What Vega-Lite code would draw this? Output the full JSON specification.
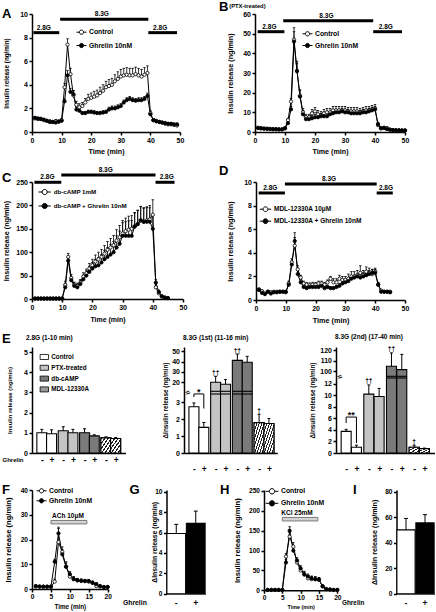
{
"$schema":"https://vega.github.io/schema/vega-lite/v6.json",
"background":"white",
"padding":{"left":1,"top":1,"right":0,"bottom":0},
"columns":1,
"align":"none",
"spacing":9,
"resolve":{"scale":{"fill":"independent"},"legend":{"fill":"independent"}},
"concat":[
{"hconcat":[
 {"width":148,"height":118,"title":{"text":"A","dx":-30,"offset":-11},
  "encoding":{"x":{"field":"t","type":"quantitative","scale":{"domain":[0,50],"nice":false},"axis":{"values":[0,10,20,30,40,50],"title":"Time (min)","titleY":19,"titleBaseline":"middle"}},
   "y":{"field":"v","type":"quantitative","scale":{"domain":[0,10],"nice":false},"axis":{"values":[0,2,4,6,8,10],"title":"Insulin release (ng/min)","titleX":-26,"titleBaseline":"middle","titleFontSize":6.3}}},
  "layer":[
   {"data":{"values":[{"t":0.5,"t2":9.2,"v":8.42},{"t":9.5,"t2":39.3,"v":9.55},{"t":39.3,"t2":49,"v":8.42}]},"mark":{"type":"rule","strokeWidth":3,"color":"black"},"encoding":{"x2":{"field":"t2"}}},
   {"data":{"values":[{"tm":4.0,"v":8.42,"label":"2.8G"},{"tm":23.6,"v":9.55,"label":"8.3G"},{"tm":43.3,"v":8.42,"label":"2.8G"}]},"mark":{"type":"text","fontSize":6.5,"baseline":"alphabetic","dy":-3},"encoding":{"x":{"field":"tm","type":"quantitative","title":"Time (min)"},"text":{"field":"label"}}},
   {"data":{"name":"A"},"mark":{"type":"rule","strokeWidth":0.8,"color":"black"},"encoding":{"y2":{"field":"hi"}}},
   {"data":{"name":"A"},"mark":{"type":"tick","orient":"horizontal","size":2.5,"thickness":0.8,"color":"black","opacity":1},"encoding":{"y":{"field":"hi","type":"quantitative","title":"Insulin release (ng/min)"}}},
   {"data":{"name":"A"},"mark":{"type":"line","strokeWidth":1,"color":"black"},"encoding":{"detail":{"field":"s"}}},
   {"data":{"name":"A"},"mark":{"type":"point","size":11,"stroke":"black","strokeWidth":0.8,"opacity":1},"encoding":{"fill":{"field":"s","type":"nominal","scale":{"domain":["c","g"],"range":["white","black"]},"legend":{"orient":"none","legendX":44,"legendY":12.7,"title":null,"symbolType":"M-1,0L-0.42,0M0.42,0L1,0M0.42,0A0.42,0.42,0,1,1,-0.42,0A0.42,0.42,0,1,1,0.42,0Z","symbolSize":100,"symbolStrokeColor":"black","symbolStrokeWidth":1,"labelFontSize":6.8,"rowPadding":3.3,"labelOffset":2,"labelExpr":"datum.value == 'c' ? 'Control' : 'Ghrelin 10nM'"}}}}
  ]},
 {"width":150,"height":118,"title":{"text":"B","dx":-36,"offset":-11.2},
  "encoding":{"x":{"field":"t","type":"quantitative","scale":{"domain":[0,50],"nice":false},"axis":{"values":[0,10,20,30,40,50],"title":"Time (min)","titleY":19,"titleBaseline":"middle"}},
   "y":{"field":"v","type":"quantitative","scale":{"domain":[0,60],"nice":false},"axis":{"values":[0,10,20,30,40,50,60],"title":"Insulin release (ng/min)","titleX":-24.3,"titleBaseline":"middle","titleFontSize":7.2}}},
  "layer":[
   {"data":{"values":[{"t":0.9,"t2":9.8,"v":51},{"t":9.4,"t2":39.4,"v":56.6},{"t":39.4,"t2":49,"v":51}]},"mark":{"type":"rule","strokeWidth":3,"color":"black"},"encoding":{"x2":{"field":"t2"}}},
   {"data":{"values":[{"tm":4.8,"v":51,"label":"2.8G"},{"tm":23.8,"v":56.6,"label":"8.3G"},{"tm":43.6,"v":51,"label":"2.8G"}]},"mark":{"type":"text","fontSize":6.5,"baseline":"alphabetic","dy":-3},"encoding":{"x":{"field":"tm","type":"quantitative","title":"Time (min)"},"text":{"field":"label"}}},
   {"data":{"values":[{"tm":-8.6,"v":62.4,"label":"(PTX-treated)"}]},"mark":{"type":"text","fontSize":5.8,"baseline":"bottom","align":"left"},"encoding":{"x":{"field":"tm","type":"quantitative","title":"Time (min)"},"text":{"field":"label"}}},
   {"data":{"name":"B"},"mark":{"type":"rule","strokeWidth":0.8,"color":"black"},"encoding":{"y2":{"field":"hi"}}},
   {"data":{"name":"B"},"mark":{"type":"tick","orient":"horizontal","size":2.5,"thickness":0.8,"color":"black","opacity":1},"encoding":{"y":{"field":"hi","type":"quantitative","title":"Insulin release (ng/min)"}}},
   {"data":{"name":"B"},"mark":{"type":"line","strokeWidth":1,"color":"black"},"encoding":{"detail":{"field":"s"}}},
   {"data":{"name":"B"},"mark":{"type":"point","size":11,"stroke":"black","strokeWidth":0.8,"opacity":1},"encoding":{"fill":{"field":"s","type":"nominal","scale":{"domain":["c","g"],"range":["white","black"]},"legend":{"orient":"none","legendX":47,"legendY":14.3,"title":null,"symbolType":"M-1,0L-0.42,0M0.42,0L1,0M0.42,0A0.42,0.42,0,1,1,-0.42,0A0.42,0.42,0,1,1,0.42,0Z","symbolSize":100,"symbolStrokeColor":"black","symbolStrokeWidth":1,"labelFontSize":6.8,"rowPadding":1.7,"labelOffset":2,"labelExpr":"datum.value == 'c' ? 'Control' : 'Ghrelin 10nM'"}}}}
  ]}
],"spacing":75,"bounds":"flush","resolve":{"scale":{"fill":"independent"},"legend":{"fill":"independent"}}},
{"hconcat":[
 {"width":151,"height":117,"title":{"text":"C","dx":-30,"offset":-18},
  "encoding":{"x":{"field":"t","type":"quantitative","scale":{"domain":[0,50],"nice":false},"axis":{"values":[0,10,20,30,40,50],"title":"Time (min)","titleY":20.5,"titleBaseline":"middle","titleFontSize":7}},
   "y":{"field":"v","type":"quantitative","scale":{"domain":[0,250],"nice":false},"axis":{"values":[0,50,100,150,200,250],"title":"Insulin release (ng/min)","titleX":-26,"titleBaseline":"middle","titleFontSize":7.2}}},
  "layer":[
   {"data":{"values":[{"t":0.8,"t2":9.7,"v":249.4},{"t":9.7,"t2":40.9,"v":265},{"t":40.9,"t2":47.2,"v":249.4}]},"mark":{"type":"rule","strokeWidth":3,"color":"black"},"encoding":{"x2":{"field":"t2"}}},
   {"data":{"values":[{"tm":5.1,"v":249.4,"label":"2.8G"},{"tm":24.4,"v":265,"label":"8.3G"},{"tm":44.6,"v":249.4,"label":"2.8G"}]},"mark":{"type":"text","fontSize":6.5,"baseline":"alphabetic","dy":-3},"encoding":{"x":{"field":"tm","type":"quantitative","title":"Time (min)"},"text":{"field":"label"}}},
   {"data":{"name":"C"},"mark":{"type":"rule","strokeWidth":0.8,"color":"black"},"encoding":{"y2":{"field":"hi"}}},
   {"data":{"name":"C"},"mark":{"type":"tick","orient":"horizontal","size":2.5,"thickness":0.8,"color":"black","opacity":1},"encoding":{"y":{"field":"hi","type":"quantitative","title":"Insulin release (ng/min)"}}},
   {"data":{"name":"C"},"mark":{"type":"line","strokeWidth":1,"color":"black"},"encoding":{"detail":{"field":"s"}}},
   {"data":{"name":"C"},"mark":{"type":"point","size":11,"stroke":"black","strokeWidth":0.8,"opacity":1},"encoding":{"fill":{"field":"s","type":"nominal","scale":{"domain":["c","g"],"range":["white","black"]},"legend":{"orient":"none","legendX":5.7,"legendY":3,"title":null,"symbolType":"M-1,0L-0.42,0M0.42,0L1,0M0.42,0A0.42,0.42,0,1,1,-0.42,0A0.42,0.42,0,1,1,0.42,0Z","symbolSize":150,"symbolStrokeColor":"black","symbolStrokeWidth":1,"labelFontSize":6.2,"rowPadding":2,"labelOffset":2,"labelExpr":"datum.value == 'c' ? 'db-cAMP 1mM' : 'db-cAMP + Ghrelin 10nM'"}}}}
  ]},
 {"width":149,"height":118,"title":{"text":"D","dx":-37,"offset":-1.5},
  "encoding":{"x":{"field":"t","type":"quantitative","scale":{"domain":[0,50],"nice":false},"axis":{"values":[0,10,20,30,40,50],"title":"Time (min)","titleY":20.5,"titleBaseline":"middle","titleFontSize":7.3}},
   "y":{"field":"v","type":"quantitative","scale":{"domain":[0,10],"nice":false},"axis":{"values":[0,2,4,6,8,10],"title":"Insulin release (ng/min)","titleX":-25.3,"titleBaseline":"middle","titleFontSize":7.2}}},
  "layer":[
   {"data":{"values":[{"t":0.9,"t2":9.7,"v":9.07},{"t":9.7,"t2":40.5,"v":9.83},{"t":40.5,"t2":45.9,"v":9.07}]},"mark":{"type":"rule","strokeWidth":3,"color":"black"},"encoding":{"x2":{"field":"t2"}}},
   {"data":{"values":[{"tm":4.8,"v":9.07,"label":"2.8G"},{"tm":24.5,"v":9.83,"label":"8.3G"},{"tm":43.6,"v":9.07,"label":"2.8G"}]},"mark":{"type":"text","fontSize":6.5,"baseline":"alphabetic","dy":-3},"encoding":{"x":{"field":"tm","type":"quantitative","title":"Time (min)"},"text":{"field":"label"}}},
   {"data":{"name":"D"},"mark":{"type":"rule","strokeWidth":0.8,"color":"black"},"encoding":{"y2":{"field":"hi"}}},
   {"data":{"name":"D"},"mark":{"type":"tick","orient":"horizontal","size":2.5,"thickness":0.8,"color":"black","opacity":1},"encoding":{"y":{"field":"hi","type":"quantitative","title":"Insulin release (ng/min)"}}},
   {"data":{"name":"D"},"mark":{"type":"line","strokeWidth":1,"color":"black"},"encoding":{"detail":{"field":"s"}}},
   {"data":{"name":"D"},"mark":{"type":"point","size":11,"stroke":"black","strokeWidth":0.8,"opacity":1},"encoding":{"fill":{"field":"s","type":"nominal","scale":{"domain":["c","g"],"range":["white","black"]},"legend":{"orient":"none","legendX":3,"legendY":20.7,"title":null,"symbolType":"M-1,0L-0.42,0M0.42,0L1,0M0.42,0A0.42,0.42,0,1,1,-0.42,0A0.42,0.42,0,1,1,0.42,0Z","symbolSize":130,"symbolStrokeColor":"black","symbolStrokeWidth":1,"labelFontSize":6.5,"rowPadding":1,"labelOffset":2,"labelExpr":"datum.value == 'c' ? 'MDL-12330A 10μM' : 'MDL-12330A + Ghrelin 10nM'"}}}}
  ]}
],"spacing":73,"bounds":"flush","resolve":{"scale":{"fill":"independent"},"legend":{"fill":"independent"}}},
{"title":{"text":"E","dx":-30,"offset":-12},
 "hconcat":[
 {"width":93.5,"height":106,"title":{"text":"2.8G (1-10 min)","fontSize":6.5,"dx":-6,"offset":5.5},
  "encoding":{"x":{"field":"pos","type":"quantitative","scale":{"domain":[0.5,9.1],"nice":false,"zero":false},"axis":{"values":[1,2,3.2,4.2,5.4,6.4,7.6,8.6],"labelExpr":"indexof([1,3.2,5.4,7.6], datum.value) >= 0 ? '-' : '+'","ticks":false,"tickSize":0,"labelPadding":6.7,"labelBaseline":"middle","labelFontSize":8.5,"title":"Ghrelin","titleX":-30,"titleY":6.7,"titleAlign":"left","titleBaseline":"middle","titleFontSize":6}},
   "y":{"field":"v","type":"quantitative","stack":null,"scale":{"domain":[0,5.25],"nice":false},"axis":{"values":[0,1,2,3,4,5],"title":"Insulin release (ng/min)","titleX":-22.7,"titleBaseline":"middle","titleFontSize":6}}},
  "layer":[
   {"data":{"name":"E1"},"mark":{"type":"bar","orient":"vertical","width":10,"stroke":"black","strokeWidth":1.1,"opacity":1},"encoding":{"fill":{"field":"g","type":"nominal","scale":{"domain":["Control","PTX-treated","db-cAMP","MDL-12330A"],"range":["white","#c4c4c4","#7a7a7a","#9a9a9a"]},"legend":{"orient":"none","legendX":7.3,"legendY":5,"title":null,"symbolType":"M-1,-0.6H1V0.6H-1Z","symbolSize":70,"symbolStrokeColor":"black","symbolStrokeWidth":0.8,"labelFontSize":6.3,"rowPadding":0.8,"labelOffset":2}}}},
   {"data":{"name":"E1"},"transform":[{"filter":"datum.g == 'MDL-12330A'"}],"mark":{"type":"bar","orient":"vertical","width":10,"stroke":"black","strokeWidth":1.1,"opacity":1,"fill":{"gradient":"linear","x1":0,"y1":0,"x2":1,"y2":1,"stops":[{"offset":0,"color":"#222"},{"offset":0.067,"color":"#222"},{"offset":0.067,"color":"#fff"},{"offset":0.167,"color":"#fff"},{"offset":0.167,"color":"#222"},{"offset":0.233,"color":"#222"},{"offset":0.233,"color":"#fff"},{"offset":0.333,"color":"#fff"},{"offset":0.333,"color":"#222"},{"offset":0.4,"color":"#222"},{"offset":0.4,"color":"#fff"},{"offset":0.5,"color":"#fff"},{"offset":0.5,"color":"#222"},{"offset":0.567,"color":"#222"},{"offset":0.567,"color":"#fff"},{"offset":0.667,"color":"#fff"},{"offset":0.667,"color":"#222"},{"offset":0.733,"color":"#222"},{"offset":0.733,"color":"#fff"},{"offset":0.833,"color":"#fff"},{"offset":0.833,"color":"#222"},{"offset":0.9,"color":"#222"},{"offset":0.9,"color":"#fff"},{"offset":1,"color":"#fff"}]}},"encoding":{}},
   {"data":{"name":"E1"},"mark":{"type":"rule","strokeWidth":1,"color":"black"},"encoding":{"y2":{"field":"hi"}}},
   {"data":{"name":"E1"},"mark":{"type":"tick","orient":"horizontal","size":3,"thickness":1,"color":"black","opacity":1},"encoding":{"y":{"field":"hi","type":"quantitative","title":"Insulin release (ng/min)"}}}
  ]},
 {"width":93.3,"height":106,"title":{"text":"8.3G (1st) (11-16 min)","fontSize":6.5,"dx":-1,"offset":5.5},
  "encoding":{"x":{"field":"pos","type":"quantitative","scale":{"domain":[0.5,8.94],"nice":false,"zero":false},"axis":{"values":[1,2,3.2,4.2,5.4,6.4,7.6,8.6],"labelExpr":"indexof([1,3.2,5.4,7.6], datum.value) >= 0 ? '-' : '+'","ticks":false,"tickSize":0,"labelPadding":15.7,"labelBaseline":"middle","labelFontSize":8.5,"title":null}},
   "y":{"field":"v","type":"quantitative","stack":null,"scale":{"domain":[0,3.5,11.3,54.1],"range":[106,47,44.3,0],"nice":false,"zero":false},"axis":{"values":[0,1,2,3,20,30,40,50],"title":"ΔInsulin release (ng/min)","titleX":-19,"titleBaseline":"middle","titleFontSize":6.4}}},
  "layer":[
   {"data":{"name":"E2"},"mark":{"type":"bar","orient":"vertical","width":10,"stroke":"black","strokeWidth":1.1,"opacity":1},"encoding":{"fill":{"field":"g","type":"nominal","scale":{"domain":["Control","PTX-treated","db-cAMP","MDL-12330A"],"range":["white","#c4c4c4","#7a7a7a","#9a9a9a"]},"legend":null}}},
   {"data":{"name":"E2"},"transform":[{"filter":"datum.g == 'MDL-12330A'"}],"mark":{"type":"bar","orient":"vertical","width":10,"stroke":"black","strokeWidth":1.1,"opacity":1,"fill":{"gradient":"linear","x1":0,"y1":0,"x2":1,"y2":1,"stops":[{"offset":0,"color":"#222"},{"offset":0.05,"color":"#222"},{"offset":0.05,"color":"#fff"},{"offset":0.125,"color":"#fff"},{"offset":0.125,"color":"#222"},{"offset":0.175,"color":"#222"},{"offset":0.175,"color":"#fff"},{"offset":0.25,"color":"#fff"},{"offset":0.25,"color":"#222"},{"offset":0.3,"color":"#222"},{"offset":0.3,"color":"#fff"},{"offset":0.375,"color":"#fff"},{"offset":0.375,"color":"#222"},{"offset":0.425,"color":"#222"},{"offset":0.425,"color":"#fff"},{"offset":0.5,"color":"#fff"},{"offset":0.5,"color":"#222"},{"offset":0.55,"color":"#222"},{"offset":0.55,"color":"#fff"},{"offset":0.625,"color":"#fff"},{"offset":0.625,"color":"#222"},{"offset":0.675,"color":"#222"},{"offset":0.675,"color":"#fff"},{"offset":0.75,"color":"#fff"},{"offset":0.75,"color":"#222"},{"offset":0.8,"color":"#222"},{"offset":0.8,"color":"#fff"},{"offset":0.875,"color":"#fff"},{"offset":0.875,"color":"#222"},{"offset":0.925,"color":"#222"},{"offset":0.925,"color":"#fff"},{"offset":1,"color":"#fff"}]}},"encoding":{}},
   {"data":{"name":"E2"},"mark":{"type":"rule","strokeWidth":1,"color":"black"},"encoding":{"y2":{"field":"hi"}}},
   {"data":{"name":"E2"},"mark":{"type":"tick","orient":"horizontal","size":3,"thickness":1,"color":"black","opacity":1},"encoding":{"y":{"field":"hi","type":"quantitative","title":"ΔInsulin release (ng/min)"}}},
   {"data":{"values":[{"k":1}]},"mark":{"type":"rect","fill":"white"},"encoding":{"x":{"datum":0.62},"x2":{"datum":8.94},"y":{"datum":3.5},"y2":{"datum":11.3}}},
   {"data":{"name":"E2"},"transform":[{"filter":"datum.v > 11.3"}],"mark":{"type":"tick","orient":"horizontal","size":10,"thickness":1.1,"color":"black","opacity":1},"encoding":{"y":{"datum":3.5}}},
   {"data":{"name":"E2"},"transform":[{"filter":"datum.v > 11.3"}],"mark":{"type":"tick","orient":"horizontal","size":10,"thickness":1.1,"color":"black","opacity":1},"encoding":{"y":{"datum":11.3}}},
   {"data":{"values":[{"pos":1,"p2":2,"y1":3.66,"y2":3.66},{"pos":1,"p2":1,"y1":3.32,"y2":3.66},{"pos":2,"p2":2,"y1":2.64,"y2":3.66}]},"mark":{"type":"rule","strokeWidth":1,"color":"black"},"encoding":{"x2":{"field":"p2"},"y":{"field":"y1","type":"quantitative","title":"ΔInsulin release (ng/min)"},"y2":{"field":"y2"}}},
   {"data":{"values":[{"pos":1.5,"v":3.66,"t":"*"}]},"mark":{"type":"text","fontSize":9,"baseline":"alphabetic","dy":1},"encoding":{"text":{"field":"t"}}},
   {"data":{"values":[{"pos":3.2,"v":25.8,"t":"††"},{"pos":5.4,"v":47.3,"t":"††"},{"pos":7.6,"v":2.3,"t":"†"}]},"mark":{"type":"text","fontSize":6.5,"baseline":"alphabetic","dy":-1.5},"encoding":{"text":{"field":"t"}}},
   {"data":{"values":[{"pos":0.5,"v":7.4,"t":"≈"}]},"mark":{"type":"text","fontSize":8,"baseline":"middle","dx":-1,"angle":-30},"encoding":{"text":{"field":"t"}}}
  ]},
 {"width":98.6,"height":106,"title":{"text":"8.3G (2nd) (17-40 min)","fontSize":6.5,"dx":-1,"offset":5.5},
  "encoding":{"x":{"field":"pos","type":"quantitative","scale":{"domain":[0.5,9.1],"nice":false,"zero":false},"axis":{"values":[1,2,3.2,4.2,5.4,6.4,7.6,8.6],"labelExpr":"indexof([1,3.2,5.4,7.6], datum.value) >= 0 ? '-' : '+'","ticks":false,"tickSize":0,"labelPadding":15.7,"labelBaseline":"middle","labelFontSize":8.5,"title":null}},
   "y":{"field":"v","type":"quantitative","stack":null,"scale":{"domain":[0,13,95.2,123],"range":[106,31,29.3,0],"nice":false,"zero":false},"axis":{"values":[0,2,4,6,8,10,12,100,110,120],"title":"ΔInsulin release (ng/min)","titleX":-24,"titleBaseline":"middle","titleFontSize":6.4}}},
  "layer":[
   {"data":{"name":"E3"},"mark":{"type":"bar","orient":"vertical","width":10,"stroke":"black","strokeWidth":1.1,"opacity":1},"encoding":{"fill":{"field":"g","type":"nominal","scale":{"domain":["Control","PTX-treated","db-cAMP","MDL-12330A"],"range":["white","#c4c4c4","#7a7a7a","#9a9a9a"]},"legend":null}}},
   {"data":{"name":"E3"},"transform":[{"filter":"datum.g == 'MDL-12330A'"}],"mark":{"type":"bar","orient":"vertical","width":10,"stroke":"black","strokeWidth":1.1,"opacity":1,"fill":{"gradient":"linear","x1":0,"y1":0,"x2":1,"y2":1,"stops":[{"offset":0,"color":"#222"},{"offset":0.1,"color":"#222"},{"offset":0.1,"color":"#fff"},{"offset":0.25,"color":"#fff"},{"offset":0.25,"color":"#222"},{"offset":0.35,"color":"#222"},{"offset":0.35,"color":"#fff"},{"offset":0.5,"color":"#fff"},{"offset":0.5,"color":"#222"},{"offset":0.6,"color":"#222"},{"offset":0.6,"color":"#fff"},{"offset":0.75,"color":"#fff"},{"offset":0.75,"color":"#222"},{"offset":0.85,"color":"#222"},{"offset":0.85,"color":"#fff"},{"offset":1,"color":"#fff"}]}},"encoding":{}},
   {"data":{"name":"E3"},"mark":{"type":"rule","strokeWidth":1,"color":"black"},"encoding":{"y2":{"field":"hi"}}},
   {"data":{"name":"E3"},"mark":{"type":"tick","orient":"horizontal","size":3,"thickness":1,"color":"black","opacity":1},"encoding":{"y":{"field":"hi","type":"quantitative","title":"ΔInsulin release (ng/min)"}}},
   {"data":{"values":[{"k":1}]},"mark":{"type":"rect","fill":"white"},"encoding":{"x":{"datum":0.6},"x2":{"datum":9.1},"y":{"datum":13},"y2":{"datum":95.2}}},
   {"data":{"name":"E3"},"transform":[{"filter":"datum.v > 95.2"}],"mark":{"type":"tick","orient":"horizontal","size":10,"thickness":1.1,"color":"black","opacity":1},"encoding":{"y":{"datum":13}}},
   {"data":{"name":"E3"},"transform":[{"filter":"datum.v > 95.2"}],"mark":{"type":"tick","orient":"horizontal","size":10,"thickness":1.1,"color":"black","opacity":1},"encoding":{"y":{"datum":95.2}}},
   {"data":{"values":[{"pos":1,"p2":2,"y1":6.23,"y2":6.23},{"pos":1,"p2":1,"y1":5.2,"y2":6.23},{"pos":2,"p2":2,"y1":1.73,"y2":6.23}]},"mark":{"type":"rule","strokeWidth":1,"color":"black"},"encoding":{"x2":{"field":"p2"},"y":{"field":"y1","type":"quantitative","title":"ΔInsulin release (ng/min)"},"y2":{"field":"y2"}}},
   {"data":{"values":[{"pos":1.5,"v":6.23,"t":"**"}]},"mark":{"type":"text","fontSize":9,"baseline":"alphabetic","dy":1},"encoding":{"text":{"field":"t"}}},
   {"data":{"values":[{"pos":3.2,"v":11.8,"t":"††"},{"pos":5.4,"v":117.4,"t":"††"},{"pos":7.6,"v":1.35,"t":"†"}]},"mark":{"type":"text","fontSize":6.5,"baseline":"alphabetic","dy":-1.5},"encoding":{"text":{"field":"t"}}},
   {"data":{"values":[{"pos":0.5,"v":60,"t":"≈"}]},"mark":{"type":"text","fontSize":8,"baseline":"middle","dx":-1,"angle":-30},"encoding":{"text":{"field":"t"}}}
  ]}
],"spacing":58,"bounds":"flush","resolve":{"scale":{"fill":"independent"},"legend":{"fill":"independent"}}},
{"hconcat":[
 {"width":75.7,"height":99,"title":{"text":"F","dx":-30,"offset":-11.2},
  "encoding":{"x":{"field":"t","type":"quantitative","scale":{"domain":[0,20],"nice":false},"axis":{"values":[0,5,10,15,20],"title":"Time (min)","titleY":17.3,"titleBaseline":"middle","titleFontSize":6.3,"labelFontSize":6.6}},
   "y":{"field":"v","type":"quantitative","scale":{"domain":[0,40],"nice":false},"axis":{"values":[0,10,20,30,40],"title":"Insulin release (ng/min)","titleX":-23.5,"titleBaseline":"middle","titleFontSize":7.6,"labelFontSize":6.6}}},
  "layer":[
   {"data":{"values":[{"t":5,"t2":14.5,"v":26.3,"v2":27.7}]},"mark":{"type":"rect","fill":"#d4d4d4","stroke":"#7a7a7a","strokeWidth":1},"encoding":{"x2":{"field":"t2"},"y2":{"field":"v2"}}},
   {"data":{"values":[{"tm":9.5,"v":27.7,"label":"ACh 10μM"}]},"mark":{"type":"text","fontSize":6.5,"baseline":"alphabetic","dy":-2.5},"encoding":{"x":{"field":"tm","type":"quantitative","title":"Time (min)"},"text":{"field":"label"}}},
   {"data":{"name":"F"},"mark":{"type":"rule","strokeWidth":0.8,"color":"black"},"encoding":{"y2":{"field":"hi"}}},
   {"data":{"name":"F"},"mark":{"type":"tick","orient":"horizontal","size":2.5,"thickness":0.8,"color":"black","opacity":1},"encoding":{"y":{"field":"hi","type":"quantitative","title":"Insulin release (ng/min)"}}},
   {"data":{"name":"F"},"mark":{"type":"line","strokeWidth":1,"color":"black"},"encoding":{"detail":{"field":"s"}}},
   {"data":{"name":"F"},"mark":{"type":"point","size":11,"stroke":"black","strokeWidth":0.8,"opacity":1},"encoding":{"fill":{"field":"s","type":"nominal","scale":{"domain":["c","g"],"range":["white","black"]},"legend":{"orient":"none","legendX":4,"legendY":-4.7,"title":null,"symbolType":"M-1,0L-0.42,0M0.42,0L1,0M0.42,0A0.42,0.42,0,1,1,-0.42,0A0.42,0.42,0,1,1,0.42,0Z","symbolSize":100,"symbolStrokeColor":"black","symbolStrokeWidth":1,"labelFontSize":6.8,"rowPadding":0,"labelOffset":2,"labelExpr":"datum.value == 'c' ? 'Control' : 'Ghrelin 10nM'"}}}}
  ]},
 {"width":39,"height":103.7,"title":{"text":"G","dx":-37,"offset":-8.6},
  "data":{"values":[{"s":"-","v":5.9,"hi":6.8},{"s":"+","v":6.9,"hi":8.1}]},
  "encoding":{"x":{"field":"s","type":"nominal","sort":["-","+"],"scale":{"paddingInner":0.04,"paddingOuter":0.02},"axis":{"labelAngle":0,"ticks":false,"tickSize":0,"labelPadding":8.5,"labelBaseline":"middle","labelFontSize":8.5,"title":"Ghrelin","titleX":-44,"titleY":8.5,"titleAlign":"left","titleBaseline":"middle","titleFontSize":6.8,"domainColor":"#666"}},
   "y":{"field":"v","type":"quantitative","scale":{"domain":[0,10.17],"nice":false},"axis":{"values":[0,2,4,6,8,10],"title":"ΔInsulin release (ng/min)","titleX":-12,"titleBaseline":"middle","titleFontSize":6.8,"labelFontSize":6.6}}},
  "layer":[
   {"mark":{"type":"bar","stroke":"black","strokeWidth":1.1,"opacity":1},"encoding":{"fill":{"field":"s","type":"nominal","scale":{"domain":["-","+"],"range":["white","black"]},"legend":null}}},
   {"mark":{"type":"rule","strokeWidth":1,"color":"black"},"encoding":{"y2":{"field":"hi"}}},
   {"mark":{"type":"tick","orient":"horizontal","size":4,"thickness":1,"color":"black","opacity":1},"encoding":{"y":{"field":"hi","type":"quantitative","title":"ΔInsulin release (ng/min)"}}}
  ]},
 {"width":73.3,"height":100.3,"title":{"text":"H","dx":-44,"offset":-12.2},
  "encoding":{"x":{"field":"t","type":"quantitative","scale":{"domain":[0,20],"nice":false},"axis":{"values":[0,5,10,15,20],"title":"Time (min)","titleY":16.5,"titleBaseline":"middle","titleFontSize":5.4,"labelFontSize":6.6}},
   "y":{"field":"v","type":"quantitative","scale":{"domain":[0,252.5],"nice":false},"axis":{"values":[0,50,100,150,200,250],"title":"Insulin release (ng/min)","titleX":-27,"titleBaseline":"middle","titleFontSize":7.6,"labelFontSize":6.6}}},
  "layer":[
   {"data":{"values":[{"t":5,"t2":14.7,"v":174.6,"v2":183.4}]},"mark":{"type":"rect","fill":"#d4d4d4","stroke":"#7a7a7a","strokeWidth":1},"encoding":{"x2":{"field":"t2"},"y2":{"field":"v2"}}},
   {"data":{"values":[{"tm":9,"v":183.4,"label":"KCl 25mM"}]},"mark":{"type":"text","fontSize":6.5,"baseline":"alphabetic","dy":-2.5},"encoding":{"x":{"field":"tm","type":"quantitative","title":"Time (min)"},"text":{"field":"label"}}},
   {"data":{"name":"H"},"mark":{"type":"rule","strokeWidth":0.8,"color":"black"},"encoding":{"y2":{"field":"hi"}}},
   {"data":{"name":"H"},"mark":{"type":"tick","orient":"horizontal","size":2.5,"thickness":0.8,"color":"black","opacity":1},"encoding":{"y":{"field":"hi","type":"quantitative","title":"Insulin release (ng/min)"}}},
   {"data":{"name":"H"},"mark":{"type":"line","strokeWidth":1,"color":"black"},"encoding":{"detail":{"field":"s"}}},
   {"data":{"name":"H"},"mark":{"type":"point","size":11,"stroke":"black","strokeWidth":0.8,"opacity":1},"encoding":{"fill":{"field":"s","type":"nominal","scale":{"domain":["c","g"],"range":["white","black"]},"legend":{"orient":"none","legendX":1,"legendY":-5.7,"title":null,"symbolType":"M-1,0L-0.42,0M0.42,0L1,0M0.42,0A0.42,0.42,0,1,1,-0.42,0A0.42,0.42,0,1,1,0.42,0Z","symbolSize":160,"symbolStrokeColor":"black","symbolStrokeWidth":1,"labelFontSize":6.8,"rowPadding":0,"labelOffset":2,"labelExpr":"datum.value == 'c' ? 'Control' : 'Ghrelin 10nM'"}}}}
  ]},
 {"width":38,"height":103.7,"title":{"text":"I","dx":-43.5,"offset":-8.6},
  "data":{"values":[{"s":"-","v":50,"hi":59},{"s":"+","v":55.5,"hi":62}]},
  "encoding":{"x":{"field":"s","type":"nominal","sort":["-","+"],"scale":{"paddingInner":0.04,"paddingOuter":0.02},"axis":{"labelAngle":0,"ticks":false,"tickSize":0,"labelPadding":8.5,"labelBaseline":"middle","labelFontSize":8.5,"title":"Ghrelin","titleX":-55,"titleY":8.5,"titleAlign":"left","titleBaseline":"middle","titleFontSize":6.4,"domainColor":"#666"}},
   "y":{"field":"v","type":"quantitative","scale":{"domain":[0,81.3],"nice":false},"axis":{"values":[0,20,40,60,80],"title":"ΔInsulin release (ng/min)","titleX":-22,"titleBaseline":"middle","titleFontSize":7.2,"labelFontSize":6.6}}},
  "layer":[
   {"mark":{"type":"bar","stroke":"black","strokeWidth":1.1,"opacity":1},"encoding":{"fill":{"field":"s","type":"nominal","scale":{"domain":["-","+"],"range":["white","black"]},"legend":null}}},
   {"mark":{"type":"rule","strokeWidth":1,"color":"black"},"encoding":{"y2":{"field":"hi"}}},
   {"mark":{"type":"tick","orient":"horizontal","size":4,"thickness":1,"color":"black","opacity":1},"encoding":{"y":{"field":"hi","type":"quantitative","title":"ΔInsulin release (ng/min)"}}}
  ]}
],"spacing":58.5,"bounds":"flush","resolve":{"scale":{"fill":"independent"},"legend":{"fill":"independent"}}}
],
"datasets":{
"A":[
{"t":1,"s":"c","v":1.15,"hi":1.3},{"t":2,"s":"c","v":1.1,"hi":1.22},{"t":3,"s":"c","v":1.1,"hi":1.25},{"t":4,"s":"c","v":1.0,"hi":1.12},{"t":5,"s":"c","v":0.95,"hi":1.07},{"t":6,"s":"c","v":0.9,"hi":1.02},{"t":7,"s":"c","v":0.85,"hi":0.97},{"t":8,"s":"c","v":0.9,"hi":1.05},{"t":9,"s":"c","v":0.85,"hi":0.97},{"t":10,"s":"c","v":1.0,"hi":1.15},
{"t":11,"s":"c","v":3.8,"hi":4.1},{"t":12,"s":"c","v":7.4,"hi":7.9},{"t":13,"s":"c","v":4.9,"hi":5.4},{"t":14,"s":"c","v":3.1,"hi":3.5},{"t":15,"s":"c","v":2.3,"hi":2.6},{"t":16,"s":"c","v":2.1,"hi":2.4},{"t":17,"s":"c","v":2.2,"hi":2.5},{"t":18,"s":"c","v":2.5,"hi":2.85},{"t":19,"s":"c","v":2.8,"hi":3.2},{"t":20,"s":"c","v":2.9,"hi":3.3},
{"t":21,"s":"c","v":3.0,"hi":3.45},{"t":22,"s":"c","v":3.1,"hi":3.55},{"t":23,"s":"c","v":3.3,"hi":3.8},{"t":24,"s":"c","v":3.5,"hi":4.0},{"t":25,"s":"c","v":3.8,"hi":4.3},{"t":26,"s":"c","v":3.9,"hi":4.45},{"t":27,"s":"c","v":4.0,"hi":4.55},{"t":28,"s":"c","v":4.3,"hi":4.85},{"t":29,"s":"c","v":4.5,"hi":5.1},{"t":30,"s":"c","v":4.7,"hi":5.3},
{"t":31,"s":"c","v":4.8,"hi":5.4},{"t":32,"s":"c","v":4.85,"hi":5.45},{"t":33,"s":"c","v":4.8,"hi":5.4},{"t":34,"s":"c","v":4.8,"hi":5.4},{"t":35,"s":"c","v":4.9,"hi":5.5},{"t":36,"s":"c","v":4.8,"hi":5.4},{"t":37,"s":"c","v":4.7,"hi":5.3},{"t":38,"s":"c","v":4.85,"hi":5.45},{"t":39,"s":"c","v":5.0,"hi":5.6},{"t":40,"s":"c","v":1.6,"hi":1.8},
{"t":41,"s":"c","v":1.0,"hi":1.15},{"t":42,"s":"c","v":0.95,"hi":1.07},{"t":43,"s":"c","v":0.85,"hi":0.95},{"t":44,"s":"c","v":0.8,"hi":0.9},{"t":45,"s":"c","v":0.7,"hi":0.8},{"t":46,"s":"c","v":0.65,"hi":0.75},{"t":47,"s":"c","v":0.65,"hi":0.75},{"t":48,"s":"c","v":0.6,"hi":0.7},{"t":49,"s":"c","v":0.55,"hi":0.65},
{"t":1,"s":"g","v":1.2,"hi":1.3},{"t":2,"s":"g","v":1.15,"hi":1.25},{"t":3,"s":"g","v":1.1,"hi":1.2},{"t":4,"s":"g","v":1.05,"hi":1.15},{"t":5,"s":"g","v":0.95,"hi":1.05},{"t":6,"s":"g","v":0.85,"hi":0.95},{"t":7,"s":"g","v":0.85,"hi":0.95},{"t":8,"s":"g","v":0.8,"hi":0.9},{"t":9,"s":"g","v":0.9,"hi":1.0},{"t":10,"s":"g","v":0.95,"hi":1.05},
{"t":11,"s":"g","v":2.6,"hi":2.8},{"t":12,"s":"g","v":4.8,"hi":5.2},{"t":13,"s":"g","v":3.4,"hi":3.7},{"t":14,"s":"g","v":3.2,"hi":3.5},{"t":15,"s":"g","v":1.9,"hi":2.1},{"t":16,"s":"g","v":1.8,"hi":2.0},{"t":17,"s":"g","v":1.6,"hi":1.75},{"t":18,"s":"g","v":1.6,"hi":1.75},{"t":19,"s":"g","v":1.7,"hi":1.85},{"t":20,"s":"g","v":1.7,"hi":1.85},
{"t":21,"s":"g","v":1.65,"hi":1.8},{"t":22,"s":"g","v":1.6,"hi":1.75},{"t":23,"s":"g","v":1.6,"hi":1.75},{"t":24,"s":"g","v":1.65,"hi":1.8},{"t":25,"s":"g","v":1.7,"hi":1.85},{"t":26,"s":"g","v":1.9,"hi":2.1},{"t":27,"s":"g","v":2.0,"hi":2.2},{"t":28,"s":"g","v":2.0,"hi":2.2},{"t":29,"s":"g","v":2.1,"hi":2.3},{"t":30,"s":"g","v":2.2,"hi":2.4},
{"t":31,"s":"g","v":2.5,"hi":2.7},{"t":32,"s":"g","v":2.7,"hi":2.9},{"t":33,"s":"g","v":2.8,"hi":3.0},{"t":34,"s":"g","v":2.7,"hi":2.9},{"t":35,"s":"g","v":2.65,"hi":2.85},{"t":36,"s":"g","v":2.7,"hi":2.9},{"t":37,"s":"g","v":2.7,"hi":2.9},{"t":38,"s":"g","v":2.8,"hi":3.0},{"t":39,"s":"g","v":3.05,"hi":3.3},{"t":40,"s":"g","v":1.5,"hi":1.7},
{"t":41,"s":"g","v":1.0,"hi":1.1},{"t":42,"s":"g","v":0.9,"hi":1.0},{"t":43,"s":"g","v":0.85,"hi":0.95},{"t":44,"s":"g","v":0.8,"hi":0.9},{"t":45,"s":"g","v":0.75,"hi":0.85},{"t":46,"s":"g","v":0.7,"hi":0.8},{"t":47,"s":"g","v":0.7,"hi":0.8},{"t":48,"s":"g","v":0.65,"hi":0.75},{"t":49,"s":"g","v":0.65,"hi":0.75}
],
"B":[
{"t":1,"s":"c","v":2.2,"hi":2.8},{"t":2,"s":"c","v":2.0,"hi":2.5},{"t":3,"s":"c","v":1.8,"hi":2.2},{"t":4,"s":"c","v":1.7,"hi":2.1},{"t":5,"s":"c","v":1.6,"hi":2.0},{"t":6,"s":"c","v":1.5,"hi":1.9},{"t":7,"s":"c","v":1.5,"hi":1.9},{"t":8,"s":"c","v":1.4,"hi":1.8},{"t":9,"s":"c","v":1.4,"hi":1.8},{"t":10,"s":"c","v":2.0,"hi":2.5},
{"t":11,"s":"c","v":6,"hi":7},{"t":12,"s":"c","v":15.5,"hi":17},{"t":13,"s":"c","v":47,"hi":53},{"t":14,"s":"c","v":31,"hi":36},{"t":15,"s":"c","v":18.5,"hi":21.5},{"t":16,"s":"c","v":10,"hi":12},{"t":17,"s":"c","v":7.5,"hi":9},{"t":18,"s":"c","v":7.5,"hi":9},{"t":19,"s":"c","v":9.5,"hi":11.5},{"t":20,"s":"c","v":10.5,"hi":12.5},
{"t":21,"s":"c","v":9,"hi":11},{"t":22,"s":"c","v":8.5,"hi":10.5},{"t":23,"s":"c","v":9.5,"hi":11.5},{"t":24,"s":"c","v":10,"hi":12},{"t":25,"s":"c","v":10,"hi":12},{"t":26,"s":"c","v":11,"hi":13},{"t":27,"s":"c","v":11,"hi":13},{"t":28,"s":"c","v":11,"hi":13},{"t":29,"s":"c","v":11,"hi":13},{"t":30,"s":"c","v":11,"hi":13},
{"t":31,"s":"c","v":10.5,"hi":12.5},{"t":32,"s":"c","v":10.5,"hi":12.5},{"t":33,"s":"c","v":10.5,"hi":12.5},{"t":34,"s":"c","v":10.5,"hi":12.5},{"t":35,"s":"c","v":10,"hi":12},{"t":36,"s":"c","v":10.5,"hi":12.5},{"t":37,"s":"c","v":11,"hi":13},{"t":38,"s":"c","v":11,"hi":13},{"t":39,"s":"c","v":11.5,"hi":13.5},{"t":40,"s":"c","v":12,"hi":14},
{"t":41,"s":"c","v":3.5,"hi":4.5},{"t":42,"s":"c","v":1.8,"hi":2.3},{"t":43,"s":"c","v":2.2,"hi":2.7},{"t":44,"s":"c","v":2.0,"hi":2.5},{"t":45,"s":"c","v":1.2,"hi":1.6},{"t":46,"s":"c","v":1.0,"hi":1.3},{"t":47,"s":"c","v":0.9,"hi":1.2},{"t":48,"s":"c","v":0.8,"hi":1.1},{"t":49,"s":"c","v":0.8,"hi":1.1},{"t":50,"s":"c","v":0.8,"hi":1.1},
{"t":1,"s":"g","v":2.0,"hi":2.4},{"t":2,"s":"g","v":1.8,"hi":2.2},{"t":3,"s":"g","v":1.7,"hi":2.0},{"t":4,"s":"g","v":1.6,"hi":1.9},{"t":5,"s":"g","v":1.5,"hi":1.8},{"t":6,"s":"g","v":1.4,"hi":1.7},{"t":7,"s":"g","v":1.4,"hi":1.7},{"t":8,"s":"g","v":1.3,"hi":1.6},{"t":9,"s":"g","v":1.3,"hi":1.6},{"t":10,"s":"g","v":1.8,"hi":2.2},
{"t":11,"s":"g","v":4.5,"hi":5.5},{"t":12,"s":"g","v":11.5,"hi":13},{"t":13,"s":"g","v":46,"hi":51},{"t":14,"s":"g","v":31,"hi":35},{"t":15,"s":"g","v":18,"hi":21},{"t":16,"s":"g","v":9,"hi":11},{"t":17,"s":"g","v":6.5,"hi":8},{"t":18,"s":"g","v":6.5,"hi":8},{"t":19,"s":"g","v":7,"hi":8.5},{"t":20,"s":"g","v":7.5,"hi":9},
{"t":21,"s":"g","v":7.5,"hi":9},{"t":22,"s":"g","v":8,"hi":9.5},{"t":23,"s":"g","v":8,"hi":9.5},{"t":24,"s":"g","v":8,"hi":9.5},{"t":25,"s":"g","v":9,"hi":10.5},{"t":26,"s":"g","v":9.5,"hi":11},{"t":27,"s":"g","v":10,"hi":11.5},{"t":28,"s":"g","v":10,"hi":11.5},{"t":29,"s":"g","v":10.5,"hi":12},{"t":30,"s":"g","v":10,"hi":11.5},
{"t":31,"s":"g","v":10,"hi":11.5},{"t":32,"s":"g","v":9.5,"hi":11},{"t":33,"s":"g","v":9.5,"hi":11},{"t":34,"s":"g","v":9.5,"hi":11},{"t":35,"s":"g","v":9.5,"hi":11},{"t":36,"s":"g","v":10,"hi":11.5},{"t":37,"s":"g","v":10,"hi":11.5},{"t":38,"s":"g","v":10.5,"hi":12},{"t":39,"s":"g","v":11,"hi":12.5},{"t":40,"s":"g","v":11.5,"hi":13},
{"t":41,"s":"g","v":4,"hi":5},{"t":42,"s":"g","v":2,"hi":2.5},{"t":43,"s":"g","v":2,"hi":2.5},{"t":44,"s":"g","v":1.5,"hi":1.9},{"t":45,"s":"g","v":1.2,"hi":1.5},{"t":46,"s":"g","v":1.0,"hi":1.3},{"t":47,"s":"g","v":0.9,"hi":1.2},{"t":48,"s":"g","v":0.9,"hi":1.2},{"t":49,"s":"g","v":0.8,"hi":1.1},{"t":50,"s":"g","v":0.8,"hi":1.1}
],
"C":[
{"t":1,"s":"c","v":1,"hi":1.5},{"t":2,"s":"c","v":1,"hi":1.5},{"t":3,"s":"c","v":1,"hi":1.5},{"t":4,"s":"c","v":1,"hi":1.5},{"t":5,"s":"c","v":1,"hi":1.5},{"t":6,"s":"c","v":1,"hi":1.5},{"t":7,"s":"c","v":1,"hi":1.5},{"t":8,"s":"c","v":1,"hi":1.5},{"t":9,"s":"c","v":1,"hi":1.5},{"t":10,"s":"c","v":1,"hi":1.5},
{"t":11,"s":"c","v":30,"hi":38},{"t":12,"s":"c","v":90,"hi":97},{"t":13,"s":"c","v":45,"hi":52},{"t":14,"s":"c","v":30,"hi":36},{"t":15,"s":"c","v":28,"hi":34},{"t":16,"s":"c","v":35,"hi":42},{"t":17,"s":"c","v":48,"hi":56},{"t":18,"s":"c","v":55,"hi":64},{"t":19,"s":"c","v":65,"hi":76},{"t":20,"s":"c","v":72,"hi":85},
{"t":21,"s":"c","v":80,"hi":94},{"t":22,"s":"c","v":85,"hi":100},{"t":23,"s":"c","v":90,"hi":106},{"t":24,"s":"c","v":97,"hi":114},{"t":25,"s":"c","v":105,"hi":123},{"t":26,"s":"c","v":110,"hi":129},{"t":27,"s":"c","v":115,"hi":136},{"t":28,"s":"c","v":125,"hi":148},{"t":29,"s":"c","v":132,"hi":157},{"t":30,"s":"c","v":140,"hi":168},
{"t":31,"s":"c","v":145,"hi":173},{"t":32,"s":"c","v":148,"hi":177},{"t":33,"s":"c","v":150,"hi":178},{"t":34,"s":"c","v":155,"hi":184},{"t":35,"s":"c","v":160,"hi":189},{"t":36,"s":"c","v":168,"hi":197},{"t":37,"s":"c","v":165,"hi":194},{"t":38,"s":"c","v":168,"hi":197},{"t":39,"s":"c","v":170,"hi":200},{"t":40,"s":"c","v":180,"hi":212},
{"t":41,"s":"c","v":25,"hi":31},{"t":42,"s":"c","v":12,"hi":15},{"t":43,"s":"c","v":5,"hi":7},{"t":44,"s":"c","v":3,"hi":4},{"t":45,"s":"c","v":2,"hi":3},
{"t":1,"s":"g","v":1,"hi":1.5},{"t":2,"s":"g","v":1,"hi":1.5},{"t":3,"s":"g","v":1,"hi":1.5},{"t":4,"s":"g","v":1,"hi":1.5},{"t":5,"s":"g","v":1,"hi":1.5},{"t":6,"s":"g","v":1,"hi":1.5},{"t":7,"s":"g","v":1,"hi":1.5},{"t":8,"s":"g","v":1,"hi":1.5},{"t":9,"s":"g","v":1,"hi":1.5},{"t":10,"s":"g","v":1,"hi":1.5},
{"t":11,"s":"g","v":25,"hi":32},{"t":12,"s":"g","v":82,"hi":90},{"t":13,"s":"g","v":40,"hi":47},{"t":14,"s":"g","v":28,"hi":34},{"t":15,"s":"g","v":25,"hi":31},{"t":16,"s":"g","v":32,"hi":39},{"t":17,"s":"g","v":42,"hi":50},{"t":18,"s":"g","v":50,"hi":60},{"t":19,"s":"g","v":58,"hi":70},{"t":20,"s":"g","v":65,"hi":78},
{"t":21,"s":"g","v":70,"hi":85},{"t":22,"s":"g","v":72,"hi":88},{"t":23,"s":"g","v":78,"hi":95},{"t":24,"s":"g","v":85,"hi":104},{"t":25,"s":"g","v":90,"hi":110},{"t":26,"s":"g","v":95,"hi":117},{"t":27,"s":"g","v":100,"hi":123},{"t":28,"s":"g","v":110,"hi":135},{"t":29,"s":"g","v":118,"hi":145},{"t":30,"s":"g","v":135,"hi":163},
{"t":31,"s":"g","v":135,"hi":165},{"t":32,"s":"g","v":135,"hi":167},{"t":33,"s":"g","v":135,"hi":168},{"t":34,"s":"g","v":155,"hi":185},{"t":35,"s":"g","v":160,"hi":190},{"t":36,"s":"g","v":168,"hi":198},{"t":37,"s":"g","v":165,"hi":195},{"t":38,"s":"g","v":165,"hi":195},{"t":39,"s":"g","v":165,"hi":195},{"t":40,"s":"g","v":150,"hi":175},
{"t":41,"s":"g","v":35,"hi":42},{"t":42,"s":"g","v":15,"hi":19},{"t":43,"s":"g","v":6,"hi":8},{"t":44,"s":"g","v":3,"hi":4},{"t":45,"s":"g","v":2,"hi":3}
],
"D":[
{"t":1,"s":"c","v":0.9,"hi":1.0},{"t":2,"s":"c","v":0.75,"hi":0.85},{"t":3,"s":"c","v":0.55,"hi":0.65},{"t":4,"s":"c","v":0.7,"hi":0.8},{"t":5,"s":"c","v":0.65,"hi":0.75},{"t":6,"s":"c","v":0.7,"hi":0.8},{"t":7,"s":"c","v":0.7,"hi":0.8},{"t":8,"s":"c","v":0.7,"hi":0.8},{"t":9,"s":"c","v":0.7,"hi":0.8},{"t":10,"s":"c","v":0.65,"hi":0.75},
{"t":11,"s":"c","v":1.4,"hi":1.6},{"t":12,"s":"c","v":3.2,"hi":3.5},{"t":13,"s":"c","v":4.6,"hi":5.3},{"t":14,"s":"c","v":2.6,"hi":2.9},{"t":15,"s":"c","v":1.9,"hi":2.1},{"t":16,"s":"c","v":1.4,"hi":1.6},{"t":17,"s":"c","v":1.3,"hi":1.5},{"t":18,"s":"c","v":1.25,"hi":1.45},{"t":19,"s":"c","v":1.3,"hi":1.5},{"t":20,"s":"c","v":1.3,"hi":1.5},
{"t":21,"s":"c","v":1.4,"hi":1.6},{"t":22,"s":"c","v":1.4,"hi":1.6},{"t":23,"s":"c","v":1.3,"hi":1.5},{"t":24,"s":"c","v":1.5,"hi":1.7},{"t":25,"s":"c","v":1.8,"hi":2.0},{"t":26,"s":"c","v":1.5,"hi":1.8},{"t":27,"s":"c","v":1.5,"hi":1.8},{"t":28,"s":"c","v":1.8,"hi":2.1},{"t":29,"s":"c","v":1.7,"hi":2.0},{"t":30,"s":"c","v":1.7,"hi":2.0},
{"t":31,"s":"c","v":1.8,"hi":2.2},{"t":32,"s":"c","v":2.0,"hi":2.4},{"t":33,"s":"c","v":2.0,"hi":2.4},{"t":34,"s":"c","v":2.1,"hi":2.5},{"t":35,"s":"c","v":2.3,"hi":2.9},{"t":36,"s":"c","v":2.1,"hi":2.5},{"t":37,"s":"c","v":2.4,"hi":2.8},{"t":38,"s":"c","v":2.3,"hi":2.7},{"t":39,"s":"c","v":2.2,"hi":2.6},{"t":40,"s":"c","v":2.4,"hi":2.7},
{"t":41,"s":"c","v":1.3,"hi":1.5},{"t":42,"s":"c","v":0.8,"hi":0.9},{"t":43,"s":"c","v":0.7,"hi":0.8},{"t":44,"s":"c","v":0.7,"hi":0.8},{"t":45,"s":"c","v":0.7,"hi":0.8},
{"t":1,"s":"g","v":0.85,"hi":0.95},{"t":2,"s":"g","v":0.6,"hi":0.7},{"t":3,"s":"g","v":0.5,"hi":0.6},{"t":4,"s":"g","v":0.7,"hi":0.8},{"t":5,"s":"g","v":0.55,"hi":0.65},{"t":6,"s":"g","v":0.65,"hi":0.75},{"t":7,"s":"g","v":0.65,"hi":0.75},{"t":8,"s":"g","v":0.7,"hi":0.8},{"t":9,"s":"g","v":0.7,"hi":0.8},{"t":10,"s":"g","v":0.7,"hi":0.8},
{"t":11,"s":"g","v":1.3,"hi":1.5},{"t":12,"s":"g","v":3.0,"hi":3.3},{"t":13,"s":"g","v":5.0,"hi":5.7},{"t":14,"s":"g","v":2.2,"hi":2.5},{"t":15,"s":"g","v":1.5,"hi":1.7},{"t":16,"s":"g","v":1.1,"hi":1.25},{"t":17,"s":"g","v":1.0,"hi":1.15},{"t":18,"s":"g","v":1.1,"hi":1.25},{"t":19,"s":"g","v":1.1,"hi":1.25},{"t":20,"s":"g","v":1.1,"hi":1.25},
{"t":21,"s":"g","v":1.1,"hi":1.25},{"t":22,"s":"g","v":1.2,"hi":1.35},{"t":23,"s":"g","v":1.0,"hi":1.15},{"t":24,"s":"g","v":1.1,"hi":1.25},{"t":25,"s":"g","v":1.0,"hi":1.15},{"t":26,"s":"g","v":1.0,"hi":1.15},{"t":27,"s":"g","v":1.1,"hi":1.25},{"t":28,"s":"g","v":1.2,"hi":1.4},{"t":29,"s":"g","v":1.4,"hi":1.6},{"t":30,"s":"g","v":1.5,"hi":1.7},
{"t":31,"s":"g","v":1.6,"hi":1.8},{"t":32,"s":"g","v":1.8,"hi":2.0},{"t":33,"s":"g","v":1.9,"hi":2.1},{"t":34,"s":"g","v":2.0,"hi":2.2},{"t":35,"s":"g","v":1.9,"hi":2.2},{"t":36,"s":"g","v":2.0,"hi":2.3},{"t":37,"s":"g","v":2.1,"hi":2.4},{"t":38,"s":"g","v":2.2,"hi":2.5},{"t":39,"s":"g","v":2.3,"hi":2.6},{"t":40,"s":"g","v":2.3,"hi":2.6},
{"t":41,"s":"g","v":1.3,"hi":1.5},{"t":42,"s":"g","v":0.7,"hi":0.8},{"t":43,"s":"g","v":0.7,"hi":0.8},{"t":44,"s":"g","v":0.7,"hi":0.8},{"t":45,"s":"g","v":0.65,"hi":0.75}
],
"F":[
{"t":1,"s":"c","v":1,"hi":1.3},{"t":2,"s":"c","v":1,"hi":1.2},{"t":3,"s":"c","v":0.8,"hi":1.0},{"t":4,"s":"c","v":0.8,"hi":1.0},{"t":5,"s":"c","v":0.8,"hi":1.0},{"t":6,"s":"c","v":3,"hi":4},{"t":7,"s":"c","v":19,"hi":25},{"t":8,"s":"c","v":15,"hi":17},{"t":9,"s":"c","v":9,"hi":11},{"t":10,"s":"c","v":5,"hi":6},
{"t":11,"s":"c","v":4,"hi":5},{"t":12,"s":"c","v":3.5,"hi":4.3},{"t":13,"s":"c","v":3.3,"hi":4},{"t":14,"s":"c","v":3.2,"hi":3.9},{"t":15,"s":"c","v":3,"hi":3.7},{"t":16,"s":"c","v":2.5,"hi":3.2},{"t":17,"s":"c","v":1.2,"hi":1.8},{"t":18,"s":"c","v":1,"hi":1.3},{"t":19,"s":"c","v":0.8,"hi":1.0},{"t":20,"s":"c","v":0.8,"hi":1.0},
{"t":1,"s":"g","v":1.2,"hi":1.5},{"t":2,"s":"g","v":1,"hi":1.2},{"t":3,"s":"g","v":1,"hi":1.2},{"t":4,"s":"g","v":1,"hi":1.2},{"t":5,"s":"g","v":1,"hi":1.2},{"t":6,"s":"g","v":11,"hi":12},{"t":7,"s":"g","v":22.5,"hi":24.5},{"t":8,"s":"g","v":14,"hi":16},{"t":9,"s":"g","v":9,"hi":10.5},{"t":10,"s":"g","v":6,"hi":7},
{"t":11,"s":"g","v":4,"hi":4.8},{"t":12,"s":"g","v":3.5,"hi":4.2},{"t":13,"s":"g","v":3.3,"hi":4},{"t":14,"s":"g","v":3.2,"hi":3.9},{"t":15,"s":"g","v":3.2,"hi":3.9},{"t":16,"s":"g","v":2.5,"hi":3.1},{"t":17,"s":"g","v":2,"hi":2.5},{"t":18,"s":"g","v":1.2,"hi":1.5},{"t":19,"s":"g","v":0.8,"hi":1.0},{"t":20,"s":"g","v":0.8,"hi":1.0}
],
"H":[
{"t":1,"s":"c","v":1,"hi":2},{"t":2,"s":"c","v":1,"hi":2},{"t":3,"s":"c","v":1,"hi":2},{"t":4,"s":"c","v":1,"hi":2},{"t":5,"s":"c","v":1,"hi":2},{"t":6,"s":"c","v":85,"hi":93},{"t":7,"s":"c","v":135,"hi":145},{"t":8,"s":"c","v":110,"hi":120},{"t":9,"s":"c","v":70,"hi":78},{"t":10,"s":"c","v":50,"hi":58},
{"t":11,"s":"c","v":40,"hi":48},{"t":12,"s":"c","v":30,"hi":37},{"t":13,"s":"c","v":28,"hi":35},{"t":14,"s":"c","v":28,"hi":34},{"t":15,"s":"c","v":26,"hi":32},{"t":16,"s":"c","v":10,"hi":13},{"t":17,"s":"c","v":3,"hi":5},{"t":18,"s":"c","v":2,"hi":3},{"t":19,"s":"c","v":1,"hi":2},{"t":20,"s":"c","v":1,"hi":2},
{"t":1,"s":"g","v":1,"hi":2},{"t":2,"s":"g","v":1,"hi":2},{"t":3,"s":"g","v":1,"hi":2},{"t":4,"s":"g","v":1,"hi":2},{"t":5,"s":"g","v":1,"hi":2},{"t":6,"s":"g","v":70,"hi":77},{"t":7,"s":"g","v":150,"hi":160},{"t":8,"s":"g","v":100,"hi":108},{"t":9,"s":"g","v":75,"hi":82},{"t":10,"s":"g","v":55,"hi":62},
{"t":11,"s":"g","v":40,"hi":46},{"t":12,"s":"g","v":35,"hi":41},{"t":13,"s":"g","v":30,"hi":36},{"t":14,"s":"g","v":28,"hi":34},{"t":15,"s":"g","v":27,"hi":32},{"t":16,"s":"g","v":10,"hi":13},{"t":17,"s":"g","v":3,"hi":5},{"t":18,"s":"g","v":2,"hi":3},{"t":19,"s":"g","v":1,"hi":2},{"t":20,"s":"g","v":1,"hi":2}
],
"E1":[
{"pos":1,"g":"Control","v":1.0,"hi":1.17},{"pos":2,"g":"Control","v":0.95,"hi":1.15},{"pos":3.2,"g":"PTX-treated","v":1.1,"hi":1.3},{"pos":4.2,"g":"PTX-treated","v":1.0,"hi":1.17},{"pos":5.4,"g":"db-cAMP","v":1.0,"hi":1.2},{"pos":6.4,"g":"db-cAMP","v":0.85,"hi":0.9},{"pos":7.6,"g":"MDL-12330A","v":0.75,"hi":0.8},{"pos":8.6,"g":"MDL-12330A","v":0.72,"hi":0.77}
],
"E2":[
{"pos":1,"g":"Control","v":2.74,"hi":2.97},{"pos":2,"g":"Control","v":1.52,"hi":1.81},{"pos":3.2,"g":"PTX-treated","v":20,"hi":25.8},{"pos":4.2,"g":"PTX-treated","v":18.1,"hi":22.6},{"pos":5.4,"g":"db-cAMP","v":41.2,"hi":47.3},{"pos":6.4,"g":"db-cAMP","v":39.3,"hi":45.1},{"pos":7.6,"g":"MDL-12330A","v":1.8,"hi":2.3},{"pos":8.6,"g":"MDL-12330A","v":1.75,"hi":2.05}
],
"E3":[
{"pos":1,"g":"Control","v":3.75,"hi":4.1},{"pos":2,"g":"Control","v":1.0,"hi":1.35},{"pos":3.2,"g":"PTX-treated","v":10.2,"hi":11.8},{"pos":4.2,"g":"PTX-treated","v":9.8,"hi":11.2},{"pos":5.4,"g":"db-cAMP","v":104.7,"hi":117.4},{"pos":6.4,"g":"db-cAMP","v":101.5,"hi":116},{"pos":7.6,"g":"MDL-12330A","v":1.0,"hi":1.35},{"pos":8.6,"g":"MDL-12330A","v":0.75,"hi":0.85}
]
},
"config":{
 "view":{"stroke":null},
 "font":"Liberation Sans",
 "axis":{"domainColor":"black","domainWidth":1.5,"tickColor":"black","tickWidth":1.5,"tickSize":3,"labelFont":"Liberation Sans","labelFontSize":7,"labelFontWeight":"bold","labelColor":"black","labelPadding":1.5,"titleFont":"Liberation Sans","titleFontSize":7.2,"titleFontWeight":"bold","titleColor":"black","grid":false,"labelFlush":false,"labelOverlap":false,"titleAlign":"center"},
 "legend":{"labelFont":"Liberation Sans","labelFontWeight":"bold","labelColor":"black","padding":0},
 "title":{"font":"Liberation Sans","fontSize":13,"fontWeight":"bold","anchor":"start","frame":"group","color":"black","baseline":"alphabetic"},
 "text":{"font":"Liberation Sans","fontWeight":"bold","color":"black"}
}
}
